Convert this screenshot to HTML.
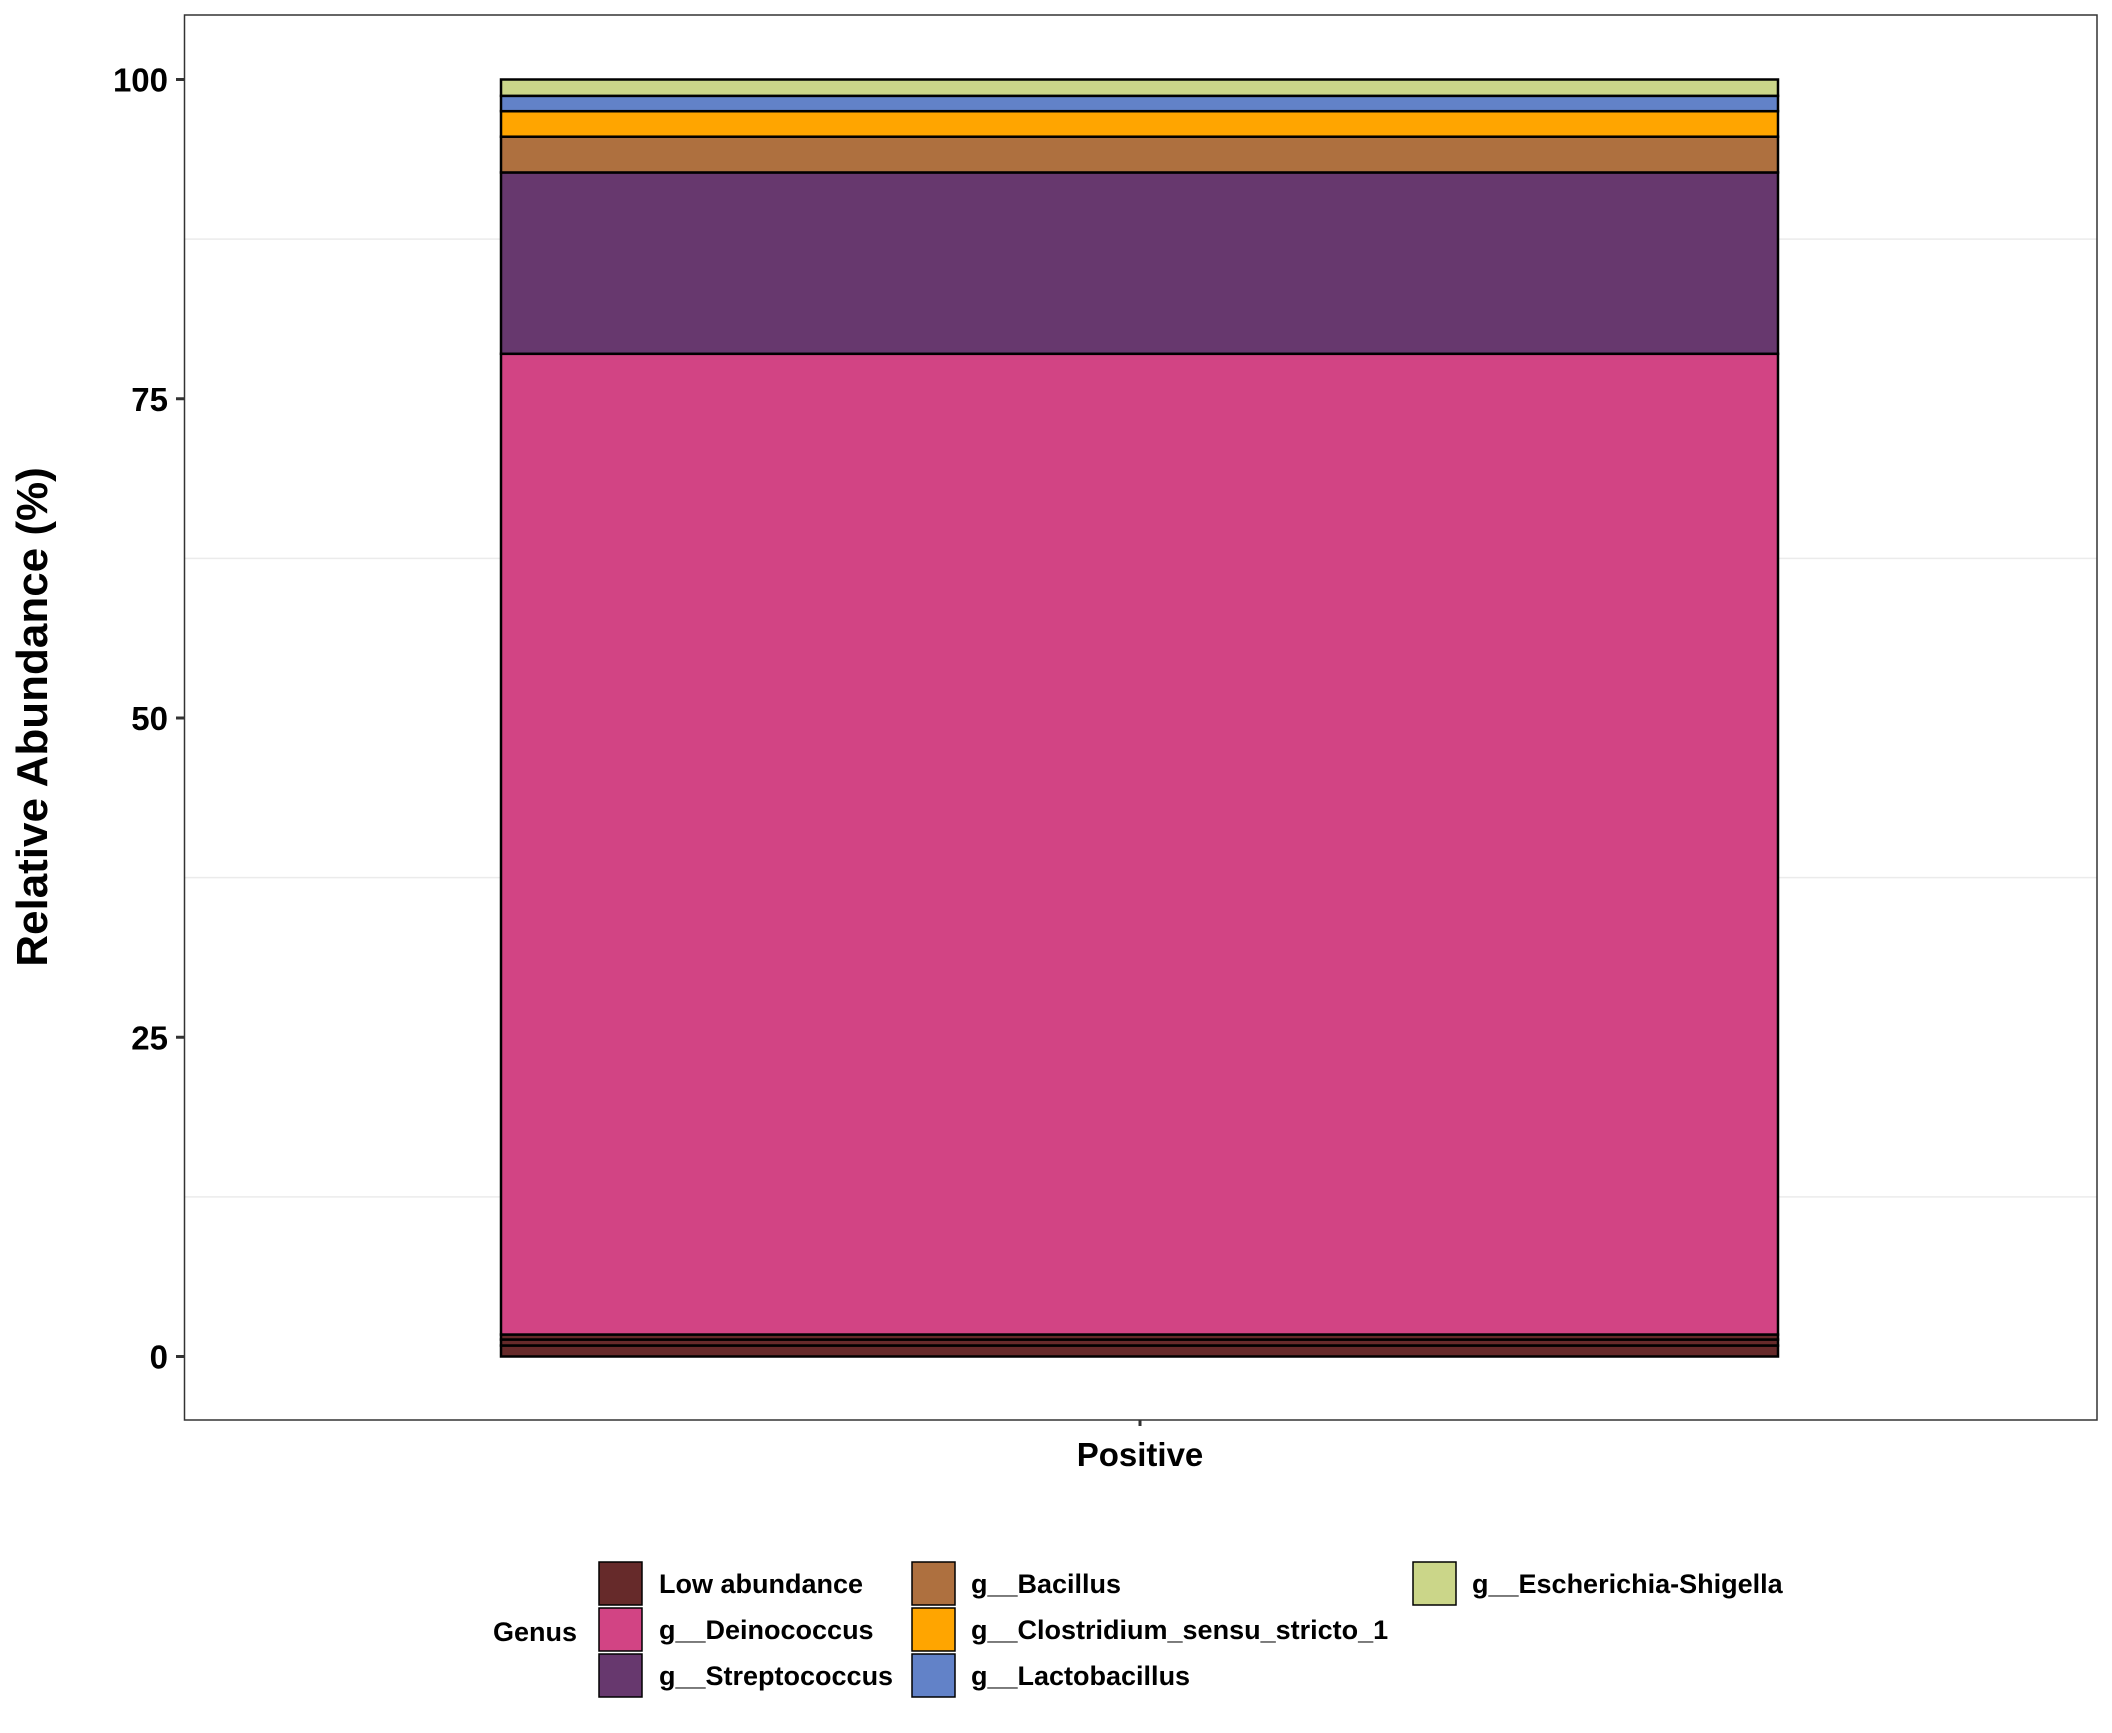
<!DOCTYPE html>
<html><head><meta charset="utf-8"><style>
body{margin:0;background:#fff}
svg text{font-family:"Liberation Sans",Arial,sans-serif;font-weight:bold}
</style></head><body>
<svg width="2112" height="1728" xmlns="http://www.w3.org/2000/svg">
<rect width="2112" height="1728" fill="#fff"/>
<g id="grid"></g>
<g id="bars"></g>
<rect x="184.5" y="15" width="1912.5" height="1405" fill="none" stroke="#333" stroke-width="1.5"/>
<g id="yaxis"></g>
<line x1="1140" y1="1420" x2="1140" y2="1426" stroke="#333" stroke-width="3"/>
<text x="1140" y="1466" font-size="33" text-anchor="middle">Positive</text>
<text transform="translate(47,717) rotate(-90)" font-size="44" text-anchor="middle">Relative Abundance (%)</text>
<g id="legend">
<text x="493" y="1641" font-size="27">Genus</text>
</g>
</svg>
<script>
const genera=["Low abundance","Low abundance","Low abundance","g__Deinococcus","g__Streptococcus","g__Bacillus","g__Clostridium_sensu_stricto_1","g__Lactobacillus","g__Escherichia-Shigella"];
const values=[0.86,0.47,0.39,76.8,14.2,2.8,2.0,1.2,1.28];
const colors=["#662a2a","#662a2a","#662a2a","#d24484","#67386e","#ae703f","#ffa500","#6282c8","#cbd689"];
const yTicks=[0,25,50,75,100];
const legendLabels=["Low abundance","g__Deinococcus","g__Streptococcus","g__Bacillus","g__Clostridium_sensu_stricto_1","g__Lactobacillus","g__Escherichia-Shigella"];
const legendColors=["#662a2a","#d24484","#67386e","#ae703f","#ffa500","#6282c8","#cbd689"];
const NS="http://www.w3.org/2000/svg";
const y=v=>1356.5-v*12.77;
function mk(t,a){const e=document.createElementNS(NS,t);for(const k in a)e.setAttribute(k,a[k]);return e;}
const grid=document.getElementById('grid');
[12.5,37.5,62.5,87.5].forEach(v=>{const l=mk('line',{x1:185,x2:2097,y1:y(v),y2:y(v),stroke:'#ebebeb','stroke-width':1.5});

grid.appendChild(l);});
const bars=document.getElementById('bars');
let c=0;
values.forEach((v,i)=>{const r=mk('rect',{x:501,width:1277,y:y(c+v),height:v*12.77,fill:colors[i],stroke:'#000','stroke-width':2.5});

bars.appendChild(r);c+=v;});
const ya=document.getElementById('yaxis');
yTicks.forEach(t=>{const l=mk('line',{x1:176,x2:184.5,y1:y(t),y2:y(t),stroke:'#333','stroke-width':3});

ya.appendChild(l);
const tx=mk('text',{x:168,y:y(t)+12,'font-size':33,'text-anchor':'end'});tx.textContent=t;

ya.appendChild(tx);});
const lg=document.getElementById('legend');
const cols=[[599,659],[912,971],[1413,1472]];
legendLabels.forEach((lab,i)=>{const col=Math.floor(i/3),row=i%3;const ky=1562+row*46;
const r=mk('rect',{x:cols[col][0],y:ky,width:43,height:43,fill:legendColors[i],stroke:'#000','stroke-width':1.5});

lg.appendChild(r);
const t=mk('text',{x:cols[col][1],y:ky+31,'font-size':27});t.textContent=lab;

lg.appendChild(t);});
</script>
</body></html>
